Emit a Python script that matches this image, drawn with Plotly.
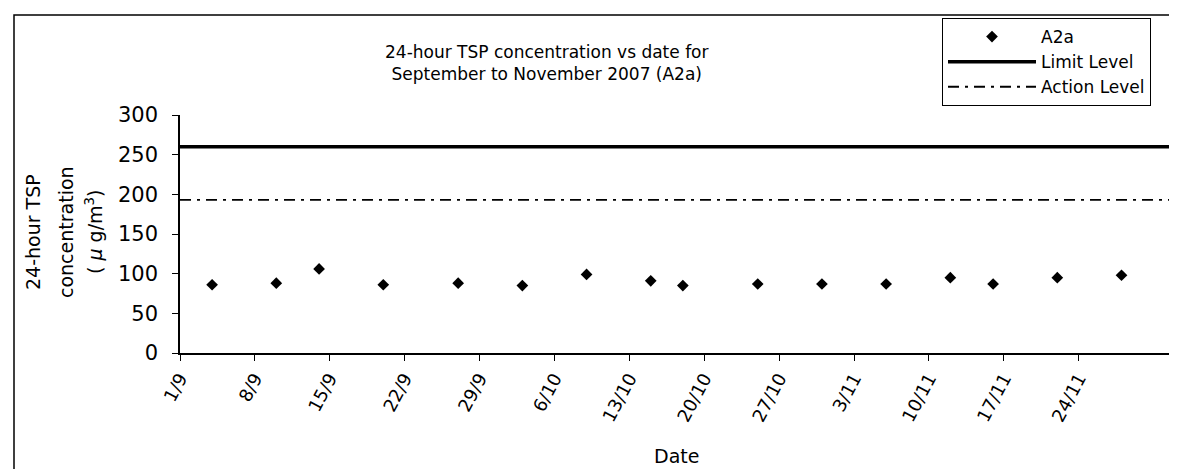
import plotly.graph_objects as go

# A2a 24-hour TSP readings (ug/m3)
SAMPLE_DATES = [
    "2007-09-04", "2007-09-10", "2007-09-14", "2007-09-20",
    "2007-09-27", "2007-10-03", "2007-10-09", "2007-10-15",
    "2007-10-18", "2007-10-25", "2007-10-31", "2007-11-06",
    "2007-11-12", "2007-11-16", "2007-11-22", "2007-11-28",
]
TSP_A2A = [86, 88, 106, 86, 88, 85, 99, 91, 85, 87, 87, 87, 95, 87, 95, 98]

LIMIT_LEVEL = 260
ACTION_LEVEL = 193

X_RANGE = ["2007-09-01", "2007-12-03"]
TICK_DATES = [
    "2007-09-01", "2007-09-08", "2007-09-15", "2007-09-22", "2007-09-29",
    "2007-10-06", "2007-10-13", "2007-10-20", "2007-10-27", "2007-11-03",
    "2007-11-10", "2007-11-17", "2007-11-24",
]
TICK_LABELS = [
    "1/9", "8/9", "15/9", "22/9", "29/9", "6/10", "13/10",
    "20/10", "27/10", "3/11", "10/11", "17/11", "24/11",
]

FONT = "DejaVu Sans, Arial, sans-serif"
W, H = 1177, 469
PLOT_L, PLOT_R, PLOT_T, PLOT_B = 172, 1167, 107, 345


def px_x(x):
    return (x - PLOT_L) / (PLOT_R - PLOT_L)


def px_y(y):
    return (PLOT_B - y) / (PLOT_B - PLOT_T)


def add_text(text, x, y, size, angle=0):
    fig.add_annotation(
        text=text, xref="paper", yref="paper", x=px_x(x), y=px_y(y),
        xanchor="center", yanchor="middle", textangle=angle,
        showarrow=False, font=dict(family=FONT, size=size, color="black"),
    )


fig = go.Figure()
fig.add_trace(
    go.Scatter(
        name="A2a",
        x=SAMPLE_DATES,
        y=TSP_A2A,
        mode="markers",
        marker=dict(symbol="diamond", size=9, color="black"),
    )
)
fig.add_trace(
    go.Scatter(
        name="Limit Level",
        x=X_RANGE,
        y=[LIMIT_LEVEL, LIMIT_LEVEL],
        mode="lines",
        line=dict(color="black", width=3.5),
    )
)
fig.add_trace(
    go.Scatter(
        name="Action Level",
        x=X_RANGE,
        y=[ACTION_LEVEL, ACTION_LEVEL],
        mode="lines",
        line=dict(color="black", width=1.8, dash="11px,6px,3px,6px"),
    )
)

# outer chart frame
fig.add_shape(
    type="rect", xref="paper", yref="paper",
    x0=px_x(6), x1=px_x(1182), y0=px_y(465), y1=px_y(7),
    line=dict(color="black", width=1.5), layer="below",
)

add_text("24-hour TSP concentration vs date for<br>September to November 2007 (A2a)", 539, 55, 17)
add_text("Date", 668, 448, 19)
add_text("24-hour TSP", 25, 224, 19, -90)
add_text("concentration", 58, 224, 19, -90)
add_text("( <i>μ</i> g/m<sup>3</sup>)", 86, 224, 19, -90)

fig.update_layout(
    width=W,
    height=H,
    margin=dict(l=PLOT_L, r=W - PLOT_R, t=PLOT_T, b=H - PLOT_B),
    paper_bgcolor="white",
    plot_bgcolor="white",
    font=dict(family=FONT, color="black"),
    showlegend=True,
    legend=dict(
        x=px_x(934), y=px_y(10), xanchor="left", yanchor="top",
        bordercolor="black", borderwidth=1, bgcolor="white",
        font=dict(size=17), itemwidth=88, tracegroupgap=0,
        entrywidth=125, entrywidthmode="pixels",
    ),
    xaxis=dict(
        type="date",
        range=X_RANGE,
        tickvals=TICK_DATES,
        ticktext=TICK_LABELS,
        tickangle=-62,
        tickfont=dict(size=18),
        ticks="outside", ticklen=6, tickcolor="black",
        showline=True, linecolor="black", linewidth=1.5,
        showgrid=False, zeroline=False,
    ),
    yaxis=dict(
        range=[0, 300],
        dtick=50,
        tickfont=dict(size=21),
        ticks="outside", ticklen=6, tickcolor="black",
        ticklabelstandoff=10,
        showline=True, linecolor="black", linewidth=1.5,
        showgrid=False, zeroline=False,
    ),
)

fig.write_html("out.html")
